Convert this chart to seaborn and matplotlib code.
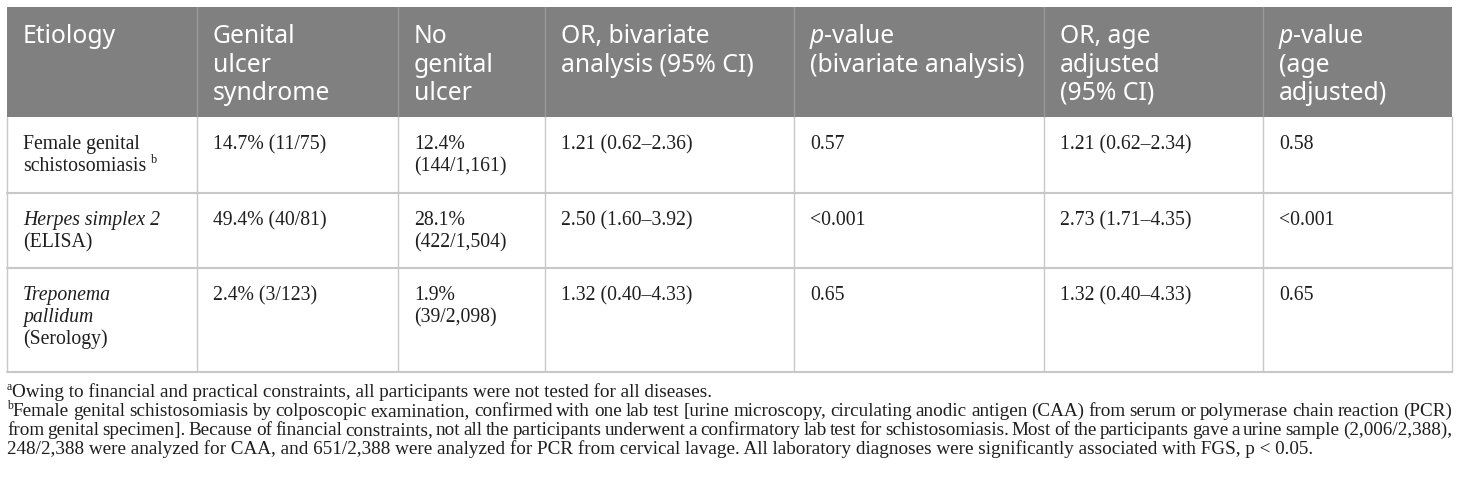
import matplotlib
matplotlib.use("Agg")
import matplotlib.pyplot as plt
from matplotlib.patches import Rectangle
import seaborn as sns

# ==============================
# TABLE DATA
# ==============================

headers = [
    ["Etiology"],
    ["Genital", "ulcer", "syndrome"],
    ["No", "genital", "ulcer"],
    ["OR, bivariate", "analysis (95% CI)"],
    ["p|-value", "(bivariate analysis)"],
    ["OR, age", "adjusted", "(95% CI)"],
    ["p|-value", "(age", "adjusted)"],
]

etiology = [
    ["Female genital", "schistosomiasis"],
    ["Herpes simplex 2", "(ELISA)"],
    ["Treponema", "pallidum", "(Serology)"],
]
etiology_italic = [[False, False], [True, False], [True, True, False]]
etiology_note = ["b", None, None]

genital_ulcer = [["14.7% (11/75)"], ["49.4% (40/81)"], ["2.4% (3/123)"]]
no_genital_ulcer = [["12.4%", "(144/1,161)"], ["28.1%", "(422/1,504)"], ["1.9%", "(39/2,098)"]]
or_bivariate = [["1.21 (0.62–2.36)"], ["2.50 (1.60–3.92)"], ["1.32 (0.40–4.33)"]]
p_bivariate = [["0.57"], ["<0.001"], ["0.65"]]
or_age = [["1.21 (0.62–2.34)"], ["2.73 (1.71–4.35)"], ["1.32 (0.40–4.33)"]]
p_age = [["0.58"], ["<0.001"], ["0.65"]]

footnote_a = "Owing to financial and practical constraints, all participants were not tested for all diseases."
footnote_b = [
    "Female genital schistosomiasis by colposcopic examination, confirmed with one lab test [urine microscopy, circulating anodic antigen (CAA) from serum or polymerase chain reaction (PCR)",
    "from genital specimen]. Because of financial constraints, not all the participants underwent a confirmatory lab test for schistosomiasis. Most of the participants gave a urine sample (2,006/2,388),",
    "248/2,388 were analyzed for CAA, and 651/2,388 were analyzed for PCR from cervical lavage. All laboratory diagnoses were significantly associated with FGS, p < 0.05.",
]

# ==============================
# LAYOUT (pixels)
# ==============================

COL_X = [7, 197, 398, 545, 794, 1044, 1263, 1452]
ROW_Y = [7, 117, 193, 268, 372]
PAD = 16

HEAD_FONT = "Noto Sans"
BODY_FONT = "Liberation Serif"
HEAD_SIZE = 17.8
BODY_SIZE = 14.2
NOTE_SIZE = 13.8
INK = "#1e1e1e"

sns.set_theme(style="white")
plt.rcParams["font.family"] = [BODY_FONT, "DejaVu Sans"]

fig = plt.figure(figsize=(14.6, 4.84), dpi=100)
ax = fig.add_axes([0, 0, 1, 1])
ax.set_xlim(0, 1460)
ax.set_ylim(484, 0)
ax.axis("off")

fig.canvas.draw()
renderer = fig.canvas.get_renderer()


def width_of(t):
    return t.get_window_extent(renderer).width


# header band
ax.add_patch(Rectangle((COL_X[0], ROW_Y[0]), COL_X[-1] - COL_X[0], ROW_Y[1] - ROW_Y[0],
                       facecolor="#808080", edgecolor="none", zorder=1))
for x in COL_X[1:-1]:
    ax.plot([x, x], [ROW_Y[0], ROW_Y[1]], color="#999999", lw=1, zorder=2)

# body grid
for y in ROW_Y[2:]:
    ax.plot([COL_X[0], COL_X[-1]], [y, y], color="#c8c8c8", lw=1.5, zorder=2)
for x in COL_X:
    ax.plot([x, x], [ROW_Y[1], ROW_Y[-1]], color="#c8c8c8", lw=1, zorder=2)

# header text
for c, lines in enumerate(headers):
    for i, line in enumerate(lines):
        x = COL_X[c] + PAD
        y = ROW_Y[0] + 36 + i * 28.5
        if "|" in line:
            first, rest = line.split("|")
            t = ax.text(x, y, first, family=HEAD_FONT, style="italic", weight="light",
                        size=HEAD_SIZE, color="white", va="baseline", zorder=3)
            x += width_of(t)
            line = rest
        ax.text(x, y, line, family=HEAD_FONT, weight="light", size=HEAD_SIZE, color="white",
                va="baseline", zorder=3)

# body text
columns = [genital_ulcer, no_genital_ulcer, or_bivariate, p_bivariate, or_age, p_age]
for r in range(len(etiology)):
    base = ROW_Y[r + 1] + 32
    for i, line in enumerate(etiology[r]):
        t = ax.text(COL_X[0] + PAD, base + i * 22, line, size=BODY_SIZE, color=INK,
                    style="italic" if etiology_italic[r][i] else "normal", va="baseline")
        if etiology_note[r] and i == len(etiology[r]) - 1:
            ax.text(COL_X[0] + PAD + width_of(t) + 5, base + i * 22 - 8, etiology_note[r],
                    size=BODY_SIZE * 0.62, color=INK, va="baseline")
    for c, col in enumerate(columns):
        for i, line in enumerate(col[r]):
            ax.text(COL_X[c + 1] + PAD, base + i * 22, line, size=BODY_SIZE,
                    color=INK, va="baseline")


# footnotes
def justified(words_line, x0, x1, y):
    words = words_line.split(" ")
    texts = [ax.text(0, y, w, size=NOTE_SIZE, color=INK, va="baseline") for w in words]
    widths = [width_of(t) for t in texts]
    gap = (x1 - x0 - sum(widths)) / (len(words) - 1)
    x = x0
    for t, w in zip(texts, widths):
        t.set_x(x)
        x += w + gap


NOTE_Y = [397, 416, 435, 454]
NOTE_X = COL_X[0]
sup = ax.text(NOTE_X, NOTE_Y[0] - 7, "a", size=NOTE_SIZE * 0.62, color=INK, va="baseline")
ax.text(NOTE_X + width_of(sup), NOTE_Y[0], footnote_a, size=NOTE_SIZE, color=INK, va="baseline")

sup = ax.text(NOTE_X, NOTE_Y[1] - 7, "b", size=NOTE_SIZE * 0.62, color=INK, va="baseline")
justified(footnote_b[0], NOTE_X + width_of(sup), COL_X[-1], NOTE_Y[1])
justified(footnote_b[1], NOTE_X, COL_X[-1], NOTE_Y[2])
ax.text(NOTE_X, NOTE_Y[3], footnote_b[2], size=NOTE_SIZE, color=INK, va="baseline")

fig.savefig("out.png", dpi=100, facecolor="white")
